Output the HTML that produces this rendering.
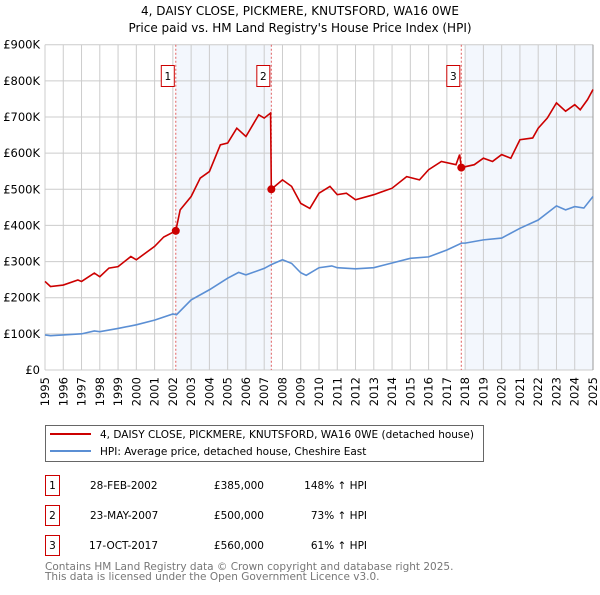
<!DOCTYPE html>
<html><head><meta charset="utf-8"><style>
body{margin:0;background:#fff;}
svg text{font-family:"DejaVu Sans","Liberation Sans",sans-serif;}
</style></head><body>
<svg width="600" height="590" xmlns="http://www.w3.org/2000/svg">
<text x="300" y="15" text-anchor="middle" font-size="12">4, DAISY CLOSE, PICKMERE, KNUTSFORD, WA16 0WE</text>
<text x="300" y="32" text-anchor="middle" font-size="12">Price paid vs. HM Land Registry's House Price Index (HPI)</text>
<g id="plot"></g>
<g>
<rect x="45.5" y="425.5" width="438" height="36" fill="#fff" stroke="#666"/>
<line x1="50" y1="434" x2="91" y2="434" stroke="#cc0000" stroke-width="2"/>
<text x="100" y="438" font-size="10.5">4, DAISY CLOSE, PICKMERE, KNUTSFORD, WA16 0WE (detached house)</text>
<line x1="50" y1="451" x2="91" y2="451" stroke="#5b8fd4" stroke-width="2"/>
<text x="100" y="455" font-size="10.5">HPI: Average price, detached house, Cheshire East</text>
</g>
<g font-size="10.5">
<rect x="45.5" y="475.5" width="14" height="20" fill="none" stroke="#cc0000"/><text x="52.5" y="489" text-anchor="middle">1</text>
<text x="90" y="489">28-FEB-2002</text><text x="264" y="489" text-anchor="end">£385,000</text><text x="367" y="489" text-anchor="end">148% ↑ HPI</text>
<rect x="45.5" y="505.5" width="14" height="20" fill="none" stroke="#cc0000"/><text x="52.5" y="519" text-anchor="middle">2</text>
<text x="90" y="519">23-MAY-2007</text><text x="264" y="519" text-anchor="end">£500,000</text><text x="367" y="519" text-anchor="end">73% ↑ HPI</text>
<rect x="45.5" y="535.5" width="14" height="20" fill="none" stroke="#cc0000"/><text x="52.5" y="549" text-anchor="middle">3</text>
<text x="89" y="549">17-OCT-2017</text><text x="264" y="549" text-anchor="end">£560,000</text><text x="367" y="549" text-anchor="end">61% ↑ HPI</text>
</g>
<text x="45" y="570" font-size="10.5" fill="#777">Contains HM Land Registry data © Crown copyright and database right 2025.</text>
<text x="45" y="580" font-size="10.5" fill="#777">This data is licensed under the Open Government Licence v3.0.</text>
</svg>
<script>
const hpiYears=[1995,1995.3,1996,1997,1997.7,1998,1999,2000,2001,2002,2002.2,2003,2004,2005,2005.6,2006,2007,2007.4,2008,2008.5,2009,2009.3,2010,2010.7,2011,2012,2013,2014,2015,2016,2017,2017.8,2018,2019,2020,2021,2022,2023,2023.5,2024,2024.5,2025];
const hpiValues=[97,95,97,100,108,106,115,125,138,155,153,194,222,254,270,263,281,292,305,295,269,262,283,288,283,280,283,296,309,313,332,351,351,360,365,392,415,454,443,452,448,480];
const priceYears=[1995,1995.3,1996,1996.8,1997,1997.7,1998,1998.5,1999,1999.7,2000,2001,2001.5,2002.16,2002.4,2003,2003.5,2004,2004.6,2005,2005.5,2006,2006.7,2007,2007.35,2007.39,2008,2008.5,2009,2009.5,2010,2010.6,2011,2011.5,2012,2013,2014,2014.8,2015.5,2016,2016.7,2017.5,2017.7,2017.79,2018.5,2019,2019.5,2020,2020.5,2021,2021.7,2022,2022.5,2023,2023.5,2024,2024.3,2024.7,2025];
const priceValues=[245,231,235,249,245,268,258,282,286,314,305,342,368,385,443,480,531,549,623,628,669,646,706,697,711,500,526,508,461,447,489,508,485,489,471,485,503,535,526,554,577,568,596,560,568,586,577,596,586,637,642,669,697,739,716,734,720,748,776];
const saleYears=[2002.16,2007.39,2017.79];
const saleValues=[385,500,560];
const saleLabels=["1","2","3"];
const yTicks=[0,100,200,300,400,500,600,700,800,900];
const yTickLabels=["£0","£100K","£200K","£300K","£400K","£500K","£600K","£700K","£800K","£900K"];
const xTicks=[1995,1996,1997,1998,1999,2000,2001,2002,2003,2004,2005,2006,2007,2008,2009,2010,2011,2012,2013,2014,2015,2016,2017,2018,2019,2020,2021,2022,2023,2024,2025];

const X0=45,X1=593,Y0=370,Y1=44.7;
const xs=y=>X0+(y-1995)/(2025-1995)*(X1-X0);
const ys=v=>Y0-v/900*(Y0-Y1);
const NS="http://www.w3.org/2000/svg";
const plot=document.getElementById('plot');
function mk(t,a){const e=document.createElementNS(NS,t);for(const k in a)e.setAttribute(k,a[k]);plot.appendChild(e);return e;}

let s1=mk('rect',{x:xs(saleYears[0]),y:Y1,width:xs(saleYears[1])-xs(saleYears[0]),height:Y0-Y1,fill:'#eef3fc',opacity:0.7});


let s2=mk('rect',{x:xs(2018),y:Y1,width:X1-xs(2018),height:Y0-Y1,fill:'#eef3fc',opacity:0.7});



yTicks.forEach((v,i)=>{
 let l=mk('line',{x1:X0,x2:X1,y1:ys(v),y2:ys(v),stroke:'#ccc'});
 
 
 let t=mk('text',{x:40,y:ys(v)+4,'text-anchor':'end','font-size':'11.5'});
 t.textContent=yTickLabels[i];
 
 
});
xTicks.forEach(y=>{
 let l=mk('line',{x1:xs(y),x2:xs(y),y1:Y1,y2:Y0,stroke:'#ccc'});
 
 
 let t=mk('text',{x:0,y:0,'font-size':'11.5','text-anchor':'end',transform:`translate(${xs(y)+4},${Y0+7}) rotate(-90)`});
 t.textContent=y;
 
 
});
let ax=mk('line',{x1:X1,x2:X1,y1:Y1,y2:Y0,stroke:'#999'});



saleYears.forEach((y,i)=>{
 let l=mk('line',{x1:xs(y),x2:xs(y),y1:Y1,y2:Y0,stroke:'#e06060','stroke-dasharray':'2,2'});
 
 
 let r=mk('rect',{x:xs(y)-14.5,y:65.5,width:13,height:21,fill:'#fff',stroke:'#cc0000'});
 
 
 let t=mk('text',{x:xs(y)-8,y:80,'text-anchor':'middle','font-size':'10.5'});
 t.textContent=saleLabels[i];
 
 
});

let hp=mk('polyline',{points:hpiYears.map((y,i)=>xs(y)+','+ys(hpiValues[i])).join(' '),fill:'none',stroke:'#5b8fd4','stroke-width':1.6});


let pp=mk('polyline',{points:priceYears.map((y,i)=>xs(y)+','+ys(priceValues[i])).join(' '),fill:'none',stroke:'#cc0000','stroke-width':1.6});


saleYears.forEach((y,i)=>{
 let c=mk('circle',{cx:xs(y),cy:ys(saleValues[i]),r:4,fill:'#cc0000'});
 
 
});
</script>
</body></html>
